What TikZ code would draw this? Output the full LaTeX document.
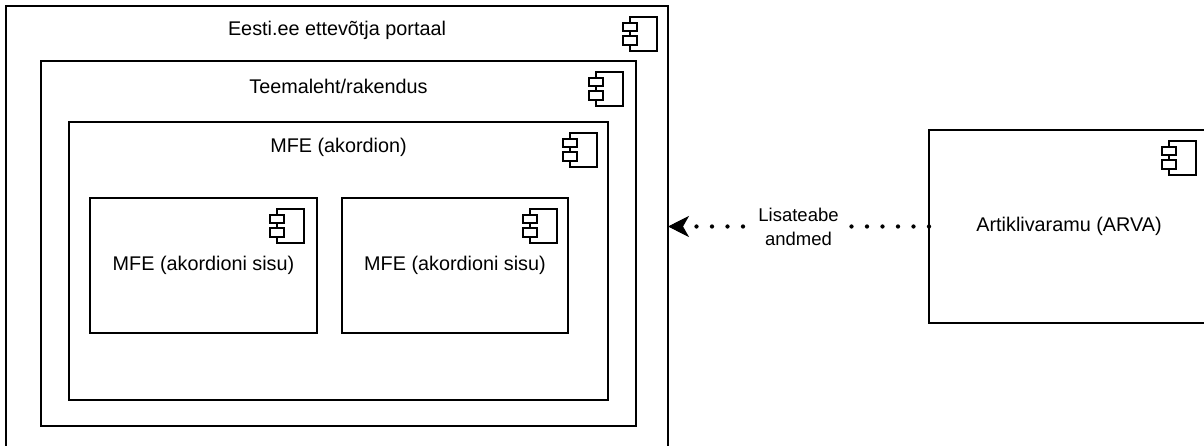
\documentclass[tikz,border=0pt]{standalone}
\usepackage{fontspec}
\setmainfont{Liberation Sans}
\usetikzlibrary{arrows.meta}

\begin{document}
\begin{tikzpicture}[x=1pt, y=-1pt, font=\fontsize{19.8}{24}\selectfont]
	\tikzstyle{comp}=[draw, line width=1.3pt, fill=white, anchor=north west, inner sep=0pt, outer sep=0pt, align=center]
	\tikzstyle{dep}=[line width=4.3pt, line cap=round, dash pattern=on 0pt off 15.5pt, -{Stealth[length=21pt,width=21pt,inset=6pt,line width=0.6pt]}]
	\tikzset{compicon/.pic={
		\draw[line width=1.3pt, fill=white] (-27,0) rectangle (0,34);
		\draw[line width=1.3pt, fill=white] (-34,6) rectangle (-20,14);
		\draw[line width=1.3pt, fill=white] (-34,19) rectangle (-20,28);
	}}

	\useasboundingbox (0,0) rectangle (1204,446);
	\clip (0,0) rectangle (1204,446);

	\node[comp, minimum width=662pt, minimum height=460pt] (portaal) at (6,6) {};
	\node[comp, minimum width=595pt, minimum height=365pt] (teema) at (41,61) {};
	\node[comp, minimum width=539pt, minimum height=278pt] (akordion) at (69,122) {};
	\node[comp, minimum width=227pt, minimum height=135pt] (sisuA) at (90,198) {MFE (akordioni sisu)};
	\node[comp, minimum width=226pt, minimum height=135pt] (sisuB) at (342,198) {MFE (akordioni sisu)};
	\node[comp, minimum width=280pt, minimum height=193pt] (arva) at (929,130) {Artiklivaramu (ARVA)};

	\node (portaalTitle) at ([yshift=-24pt]portaal.north) {Eesti.ee ettevõtja portaal};
	\node (teemaTitle) at ([yshift=-25pt]teema.north) {Teemaleht/rakendus};
	\node (akordionTitle) at ([yshift=-25pt]akordion.north) {MFE (akordion)};

	% arva box runs past the right edge
	\foreach \comp/\dx in {portaal/-11, teema/-13, akordion/-11, sisuA/-13, sisuB/-11, arva/-13}
		\pic at ([shift={(\dx,11)}]\comp.north east) {compicon};

	\draw[dep] (arva.west) -- (portaal.east |- arva.west)
		node[midway, fill=white, align=center, inner sep=2pt, font=\fontsize{18.5}{24}\selectfont] (dataLabel) {Lisateabe\\andmed};
\end{tikzpicture}
\end{document}
